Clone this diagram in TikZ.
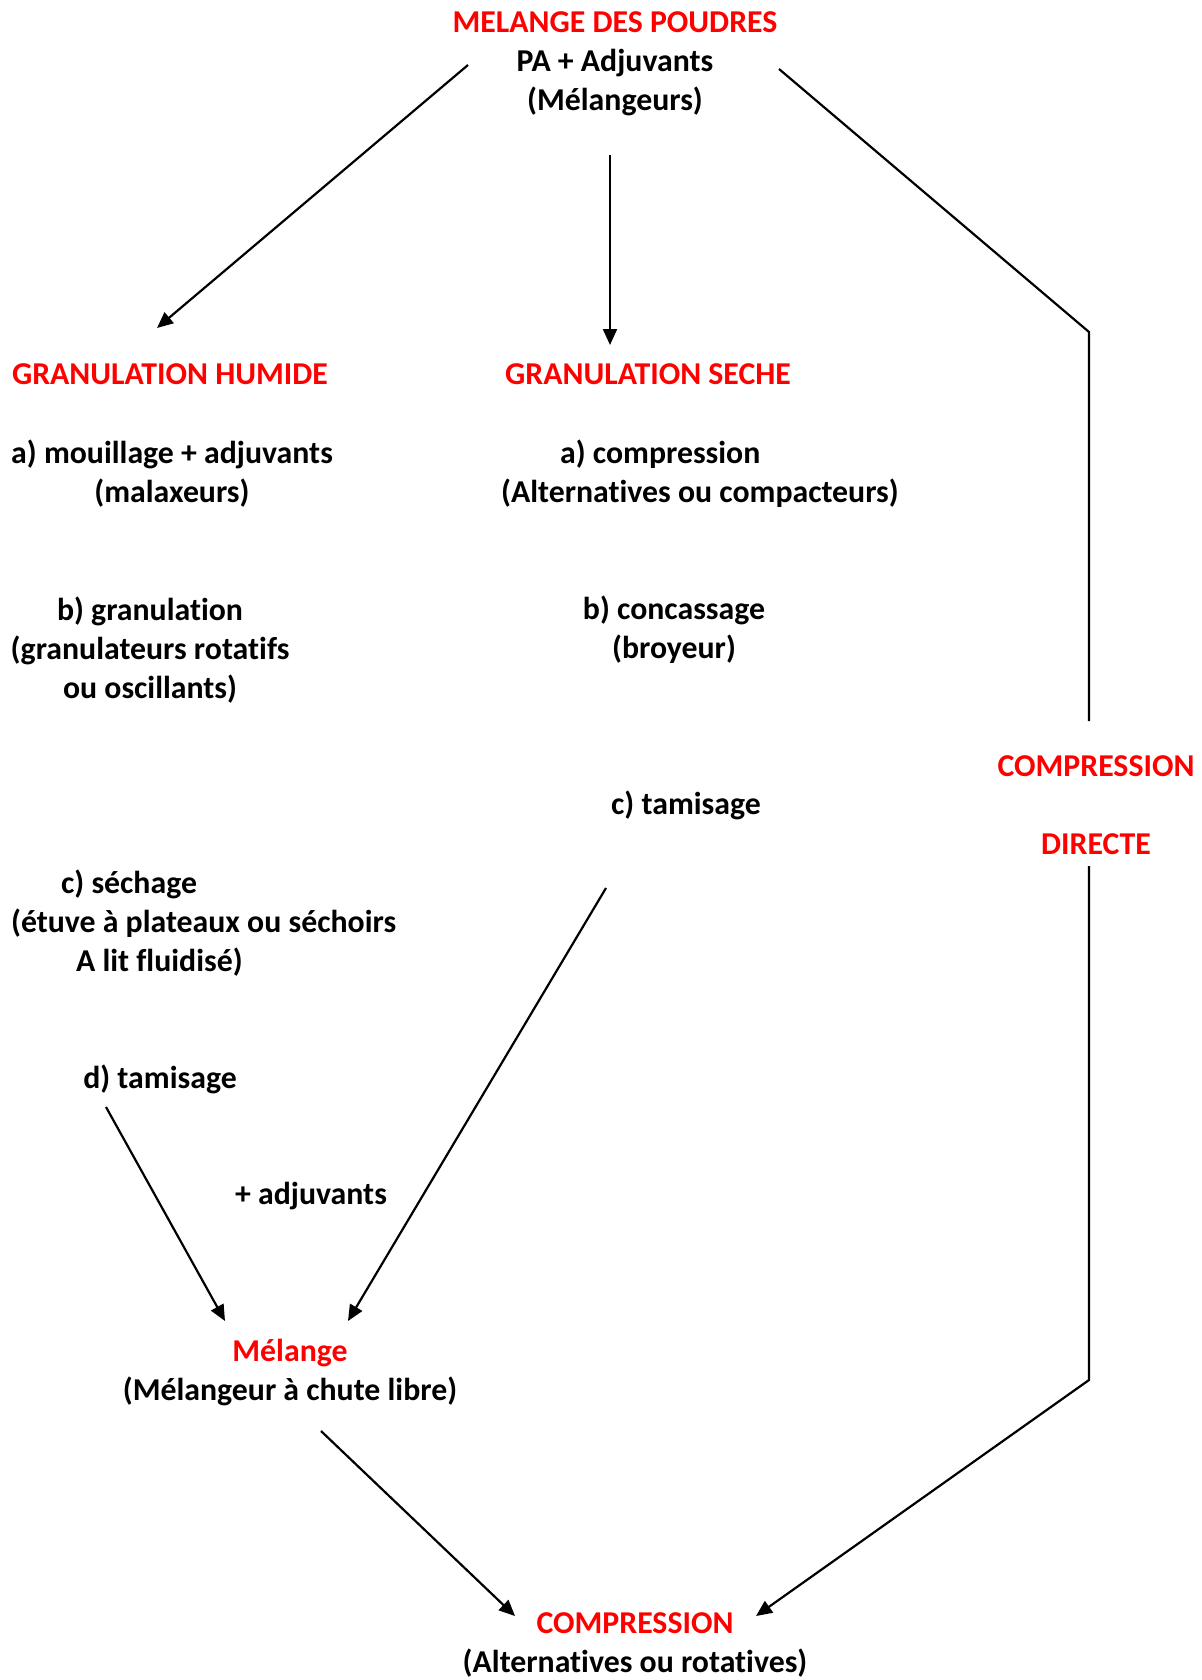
\documentclass[tikz,border=0pt]{standalone}
\usepackage{fontspec}
\setmainfont{Carlito}[Ligatures=NoCommon]
\usepackage{tikz}
\usetikzlibrary{arrows.meta,positioning,calc}

\begin{document}
\begin{tikzpicture}[x=0.5pt,y=-0.5pt,>={Triangle[length=8pt,width=7pt]},line width=1.1pt]
    \tikzstyle{txt}=[inner sep=0pt,align=center,font=\bfseries\fontsize{15.9pt}{19.5pt}\selectfont]
    \tikzstyle{titre}=[txt,text=red]
    \useasboundingbox (0,0) rectangle (1201,1680);
    % haut
    \node[txt] (top) at (615,64) {\textcolor{red}{MELANGE DES POUDRES}\\PA + Adjuvants\\(Mélangeurs)};
    % granulation humide
    \node[titre] (humide) at (170,374) {GRANULATION HUMIDE};
    \node[txt] (hA) at (172,474) {a) mouillage + adjuvants\\(malaxeurs)};
    \node[txt] (hB) at (150,650) {b) granulation\\(granulateurs rotatifs\\ou oscillants)};
    \node[txt,align=left,anchor=west] (hC) at (10,923) {\hspace*{25pt}c) séchage\\(étuve à plateaux ou séchoirs\\\hspace*{32.5pt}A lit fluidisé)};
    \node[txt] (hD) at (160,1079) {d) tamisage};
    % granulation seche
    \node[titre] (seche) at (648,374) {GRANULATION SECHE};
    \node[txt,align=left,anchor=west] (sA) at (500,474) {\hspace*{29.5pt}a) compression\\(Alternatives ou compacteurs)};
    \node[txt] (sB) at (674,630) {b) concassage\\(broyeur)};
    \node[txt] (sC) at (686,805) {c) tamisage};
    % compression directe
    \node[titre] (direct) at (1096,805) {COMPRESSION\\[19.5pt]DIRECTE};
    % bas
    \node[txt] (plus) at (311,1196) {+ adjuvants};
    \node[txt] (melange) at (290,1373) {\textcolor{red}{Mélange}\\(Mélangeur à chute libre)};
    \node[txt] (comp) at (635,1645) {\textcolor{red}{COMPRESSION}\\(Alternatives ou rotatives)};
    \coordinate (c1) at (1089,332);
    \coordinate (c2) at (1089,1380);
    \draw[->] ($(top)+(-147,1)$) -- ($(humide)+(-13,-46)$);
    \draw[->] ($(top)+(-5,91)$) -- ($(seche)+(-38,-29)$);
    \draw ($(top)+(164,5)$) -- (c1) -- ($(direct)+(-7,-84)$);
    \draw[->] ($(direct)+(-7,61)$) -- (c2) -- ($(comp)+(121,-29)$);
    \draw[->] ($(hD)+(-54,28)$) -- ($(melange)+(-65,-52)$);
    \draw[->] ($(sC)+(-80,83)$) -- ($(melange)+(58,-52)$);
    \draw[->] ($(melange)+(31,58)$) -- ($(comp)+(-120,-29)$);
\end{tikzpicture}
\end{document}
